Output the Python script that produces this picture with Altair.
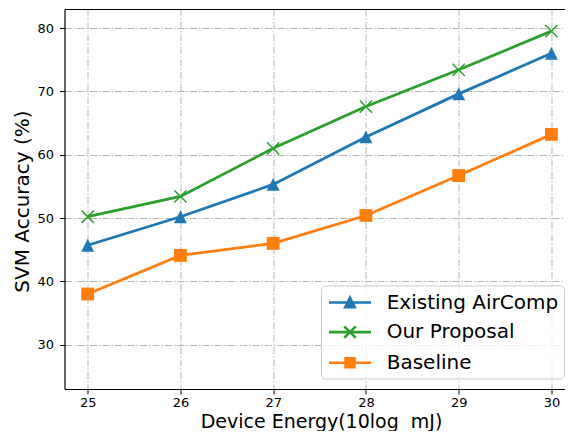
import altair as alt
import pandas as pd

energy = [25, 26, 27, 28, 29, 30]
existing = [45.7, 50.2, 55.3, 62.8, 69.6, 76.0]
proposal = [50.2, 53.4, 61.0, 67.6, 73.4, 79.5]
baseline = [38.0, 44.1, 46.0, 50.4, 56.7, 63.2]

series_names = ["Existing AirComp", "Our Proposal", "Baseline"]
series_colors = ["#1f77b4", "#2ca02c", "#ff7f0e"]
x_ticks = [25, 26, 27, 28, 29, 30]
y_ticks = [30, 40, 50, 60, 70, 80]

rows = []
for name, vals in zip(series_names, [existing, proposal, baseline]):
    for e, v in zip(energy, vals):
        rows.append({"energy": e, "acc": v, "series": name})
df = pd.DataFrame(rows)

FONT = "DejaVu Sans"
W, H = 500.5, 380
x_dom = [24.75, 24.75 + W / 92.75]
y_dom = [23, 83]

xs = alt.Scale(domain=x_dom, nice=False, zero=False)
ys = alt.Scale(domain=y_dom, nice=False, zero=False)
cs = alt.Scale(domain=series_names, range=series_colors)

grid_dash = [7, 2, 1.5, 2]

x_axis = alt.Axis(values=x_ticks, grid=True, gridDash=grid_dash, gridColor="#b5b5b5",
                  gridWidth=1, tickSize=5, tickColor="black", domainColor="black",
                  domainWidth=1.2, labelFontSize=13, labelFont=FONT, labelColor="black",
                  labelBaseline="alphabetic", labelPadding=12.5,
                  title="Device Energy(10log\u00a0 mJ)", titleFont=FONT,
                  titleFontSize=19, titleFontWeight="normal", titleColor="black",
                  titleBaseline="alphabetic", titleX=256.5, titleY=38)
y_axis = alt.Axis(values=y_ticks, grid=True, gridDash=grid_dash, gridColor="#b5b5b5",
                  gridWidth=1, tickSize=5, tickColor="black", domainColor="black",
                  domainWidth=1.2, labelFontSize=13, labelFont=FONT, labelColor="black",
                  labelPadding=6, title="SVM Accuracy (%)", titleFont=FONT,
                  titleFontSize=20, titleFontWeight="normal", titleColor="black",
                  titleBaseline="alphabetic", titleX=-36.5, titleY=192)
top_axis = alt.Axis(orient="top", labels=False, ticks=False, grid=False, domain=True,
                    domainColor="black", domainWidth=1.2, title=None)

Y = alt.Y("acc:Q", scale=ys, axis=y_axis)
XN = alt.X("energy:Q", scale=xs, axis=None)

base = alt.Chart(df)

layers = []
marker_shapes = ["M0,-1L1,1L-1,1Z", "M-1,-1L1,1M-1,1L1,-1", "square"]
marker_filled = [True, False, True]
marker_sizes = [165, 150, 165]
for i, (name, col) in enumerate(zip(series_names, series_colors)):
    sub = base.transform_filter(alt.datum.series == name)
    layers.append(sub.mark_line(strokeWidth=2.8, color=col).encode(
        x=alt.X("energy:Q", scale=xs, axis=x_axis) if i == 0 else XN, y=Y))
for i, (name, col) in enumerate(zip(series_names, series_colors)):
    sub = base.transform_filter(alt.datum.series == name)
    kw = dict(shape=marker_shapes[i], filled=marker_filled[i], size=marker_sizes[i],
              color=col, opacity=1)
    if not marker_filled[i]:
        kw["strokeWidth"] = 1.5
    layers.append(sub.mark_point(**kw).encode(x=XN, y=Y))

legend_paths = [
    "M-2,0H2M0,-0.45L0.45,0.45L-0.45,0.45Z",
    "M-2,0H2M-0.55,-0.55L0.55,0.55M-0.55,0.55L0.55,-0.55",
    "M-2,0H2M-0.42,-0.42H0.42V0.42H-0.42Z",
]
leg = alt.Legend(title=None, orient="none", legendX=256.5, legendY=276.5,
                 labelFont=FONT, labelFontSize=20, labelColor="black", labelLimit=400,
                 symbolSize=441, symbolStrokeWidth=2.6, symbolOffset=12, labelOffset=24.7,
                 rowPadding=7.6, padding=5, fillColor="rgba(255,255,255,0.8)",
                 strokeColor="#cccccc", cornerRadius=4, symbolOpacity=1)

legend_layer = base.transform_calculate(hidden="0").mark_point(
    filled=True, strokeWidth=2.6, size=441, clip=True, opacity=1
).encode(
    x=alt.X("energy:Q", scale=xs, axis=top_axis),
    y=alt.Y("hidden:Q", scale=ys, axis=y_axis),
    fill=alt.Fill("series:N", scale=cs, legend=leg),
    stroke=alt.Stroke("series:N", scale=cs, legend=leg),
    shape=alt.Shape("series:N", scale=alt.Scale(domain=series_names, range=legend_paths), legend=leg),
)
layers.append(legend_layer)

chart = alt.layer(*layers).resolve_axis(x="independent").properties(
    width=W, height=H,
    padding={"left": 56.5, "top": 1, "right": 0, "bottom": 42},
    autosize=alt.AutoSizeParams(type="none"),
).configure_view(stroke=None)

chart.save("out.html", embed_options={"renderer": "svg", "actions": False})
